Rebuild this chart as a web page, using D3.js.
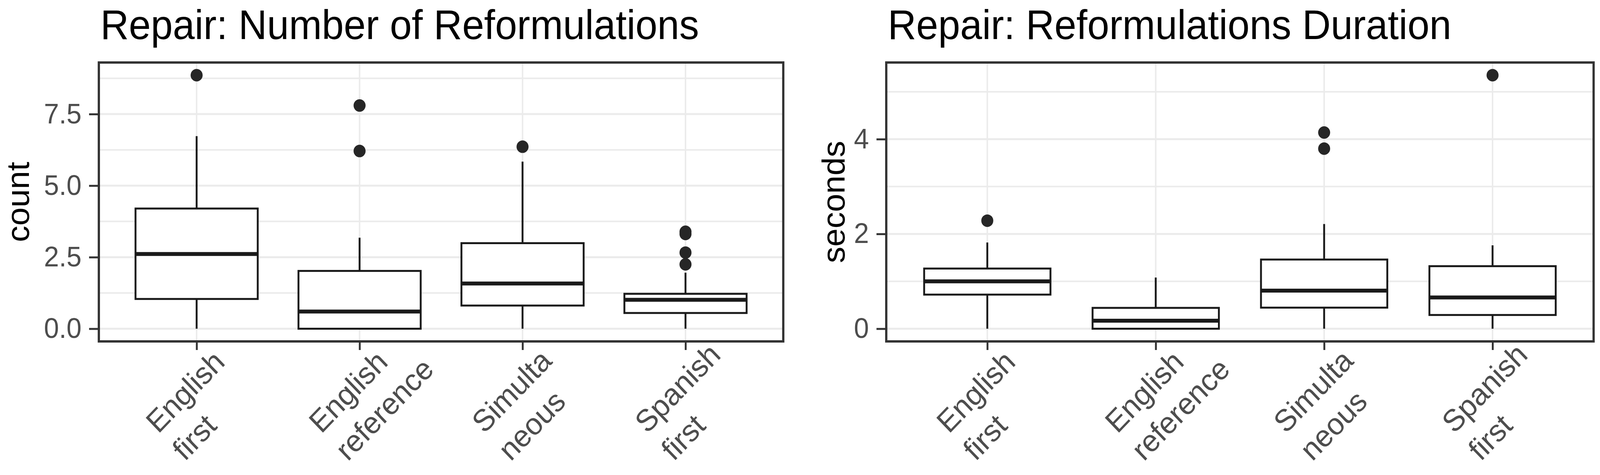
<!DOCTYPE html>
<html>
<head>
<meta charset="utf-8">
<script src="https://cdn.jsdelivr.net/npm/d3@7.9.0/dist/d3.min.js"></script>
<style>
  html, body { margin: 0; padding: 0; background: #fff; overflow: hidden; }
  svg { display: block; width: 100vw; height: 100vh; font-family: "Liberation Sans", Arial, sans-serif; }
</style>
</head>
<body>
<svg id="chart" viewBox="0 0 4257 1216" preserveAspectRatio="none"></svg>
<script>
const categories = ['English\nfirst', 'English\nreference', 'Simulta\nneous', 'Spanish\nfirst'];

// Repair: Number of Reformulations (count)
const countLow = [0, 0, 0, 0];
const countQ1 = [1.04, 0, 0.81, 0.55];
const countMedian = [2.61, 0.60, 1.58, 1.01];
const countQ3 = [4.20, 2.02, 2.99, 1.22];
const countHigh = [6.73, 3.18, 5.84, 1.96];
const countOutliers = [[8.86], [7.80, 6.21], [6.36], [3.39, 3.31, 2.66, 2.25]];
const countTicks = [0, 2.5, 5, 7.5];
const countMinor = [1.25, 3.75, 6.25, 8.75];

// Repair: Reformulations Duration (seconds)
const secLow = [0, 0, 0, 0];
const secQ1 = [0.72, 0, 0.445, 0.29];
const secMedian = [1.00, 0.17, 0.805, 0.66];
const secQ3 = [1.27, 0.44, 1.46, 1.32];
const secHigh = [1.82, 1.08, 2.21, 1.76];
const secOutliers = [[2.28], [], [4.14, 3.80], [5.35]];
const secTicks = [0, 2, 4];
const secMinor = [1, 3, 5];

const svg = d3.select('#chart');

function drawPanel(opts) {
    const { left, right, top, bottom, title, yTitle, yTitleX,
            low, q1, med, q3, high, outliers, ticks, minor, fmt } = opts;

    // ggplot-like 5% expansion of the data range
    let all = low.concat(high, outliers.flat());
    let lo = d3.min(all), hi = d3.max(all);
    let pad = (hi - lo) * 0.05;

    let y = d3.scaleLinear().domain([lo - pad, hi + pad]).range([bottom, top]);
    let x = d3.scalePoint().domain(categories).range([left, right]).padding(0.6);
    let boxW = x.step() * 0.75;

    let g = svg.append('g');

    // grid
    g.selectAll('.minor').data(minor).join('line')
        .attr('x1', left).attr('x2', right)
        .attr('y1', d => y(d)).attr('y2', d => y(d))
        .attr('stroke', '#ebebeb').attr('stroke-width', 4);
    g.selectAll('.major').data(ticks).join('line')
        .attr('x1', left).attr('x2', right)
        .attr('y1', d => y(d)).attr('y2', d => y(d))
        .attr('stroke', '#ebebeb').attr('stroke-width', 5);
    g.selectAll('.vgrid').data(categories).join('line')
        .attr('x1', d => x(d)).attr('x2', d => x(d))
        .attr('y1', top).attr('y2', bottom)
        .attr('stroke', '#ebebeb').attr('stroke-width', 4);

    // boxes
    categories.forEach((c, i) => {
        let cx = x(c);
        g.append('line')
            .attr('x1', cx).attr('x2', cx)
            .attr('y1', y(high[i])).attr('y2', y(low[i]))
            .attr('stroke', '#1a1a1a').attr('stroke-width', 5);
        g.append('rect')
            .attr('x', cx - boxW / 2).attr('width', boxW)
            .attr('y', y(q3[i])).attr('height', y(q1[i]) - y(q3[i]))
            .attr('fill', '#fff')
            .attr('stroke', '#1a1a1a').attr('stroke-width', 5);
        g.append('line')
            .attr('x1', cx - boxW / 2).attr('x2', cx + boxW / 2)
            .attr('y1', y(med[i])).attr('y2', y(med[i]))
            .attr('stroke', '#1a1a1a').attr('stroke-width', 10);
        g.selectAll(null).data(outliers[i]).join('circle')
            .attr('cx', cx).attr('cy', d => y(d)).attr('r', 16)
            .attr('fill', '#262626');
    });

    // panel border
    g.append('rect')
        .attr('x', left).attr('y', top)
        .attr('width', right - left).attr('height', bottom - top)
        .attr('fill', 'none').attr('stroke', '#333').attr('stroke-width', 6);

    // y axis
    let yAxis = g.append('g')
        .attr('transform', `translate(${left},0)`)
        .call(d3.axisLeft(y).tickValues(ticks).tickFormat(fmt).tickSize(26).tickPadding(20));
    yAxis.select('.domain').remove();
    yAxis.selectAll('line').attr('stroke', '#333').attr('stroke-width', 5);
    yAxis.selectAll('text')
        .attr('font-size', 72).attr('fill', '#4d4d4d')
        .attr('font-family', '"Liberation Sans", Arial, sans-serif');

    // x axis ticks
    let xAxis = g.append('g')
        .attr('transform', `translate(0,${bottom})`)
        .call(d3.axisBottom(x).tickSize(22).tickFormat(''));
    xAxis.select('.domain').remove();
    xAxis.selectAll('line').attr('stroke', '#333').attr('stroke-width', 5);

    // rotated two-line category labels
    categories.forEach(c => {
        let t = g.append('text')
            .attr('transform', `translate(${x(c) - 102},1112) rotate(-45)`)
            .attr('font-size', 78).attr('fill', '#4d4d4d');
        c.split('\n').forEach((line, k) => {
            t.append('tspan').attr('x', 0).attr('dy', k === 0 ? 0 : 100).text(line);
        });
    });

    // titles
    g.append('text')
        .attr('x', left + 4).attr('y', 100)
        .attr('font-size', 105).attr('fill', '#000')
        .text(title);
    g.append('text')
        .attr('transform', `translate(${yTitleX},${(top + bottom) / 2}) rotate(-90)`)
        .attr('text-anchor', 'middle')
        .attr('font-size', 84).attr('fill', '#000')
        .text(yTitle);
}

drawPanel({
    left: 263, right: 2084, top: 160, bottom: 874,
    title: 'Repair: Number of Reformulations', yTitle: 'count', yTitleX: 77,
    low: countLow, q1: countQ1, med: countMedian, q3: countQ3, high: countHigh,
    outliers: countOutliers, ticks: countTicks, minor: countMinor,
    fmt: d3.format('.1f')
});

drawPanel({
    left: 2358, right: 4240, top: 160, bottom: 874,
    title: 'Repair: Reformulations Duration', yTitle: 'seconds', yTitleX: 2247,
    low: secLow, q1: secQ1, med: secMedian, q3: secQ3, high: secHigh,
    outliers: secOutliers, ticks: secTicks, minor: secMinor,
    fmt: d3.format('d')
});
</script>
</body>
</html>
